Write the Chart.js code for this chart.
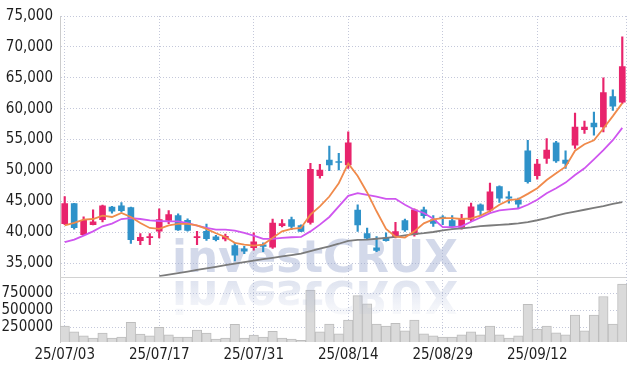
<!DOCTYPE html>
<html>
<head>
<meta charset="utf-8">
<script src="https://cdn.jsdelivr.net/npm/chart.js@4.4.1/dist/chart.umd.min.js"></script>
<style>
html,body{margin:0;padding:0;background:#ffffff;}
#wrap{width:634px;height:371px;position:relative;}
</style>
</head>
<body>
<div id="wrap"><canvas id="c" width="634" height="371"></canvas></div>
<script>
// ---------- data ----------
const dates = [
 '25/07/03','25/07/04','25/07/07','25/07/08','25/07/09','25/07/10','25/07/11','25/07/14','25/07/15','25/07/16',
 '25/07/17','25/07/18','25/07/21','25/07/22','25/07/23','25/07/24','25/07/25','25/07/28','25/07/29','25/07/30',
 '25/07/31','25/08/01','25/08/04','25/08/05','25/08/06','25/08/07','25/08/08','25/08/11','25/08/12','25/08/13',
 '25/08/14','25/08/18','25/08/19','25/08/20','25/08/21','25/08/22','25/08/25','25/08/26','25/08/27','25/08/28',
 '25/08/29','25/09/01','25/09/02','25/09/03','25/09/04','25/09/05','25/09/08','25/09/09','25/09/10','25/09/11',
 '25/09/12','25/09/15','25/09/16','25/09/17','25/09/18','25/09/19','25/09/22','25/09/23','25/09/24','25/09/25'
];
const openP = [
 41400,44650,39630,41250,42050,44100,44300,44000,38650,39150,
 40170,41930,42700,41950,39150,40150,39250,38930,37860,37330,
 37500,37960,37600,41070,42050,41070,41600,49170,51700,51400,
 50900,43600,39800,37500,39100,39300,41900,39630,43650,42000,
 42480,41900,40800,42100,44450,43600,47400,45750,45260,53170,
 49170,51950,54470,51700,54100,56620,57690,57040,61980,61060
];
const highP = [
 45800,44700,42500,43650,44400,44200,44800,44100,39800,39800,
 43800,43500,43000,42200,40150,41350,39500,39700,38300,37750,
 39900,38300,42150,42050,42480,41200,51150,51000,53940,52760,
 56240,44450,40700,39300,39900,41600,42150,43800,44100,42700,
 42700,42700,42900,44720,44600,47950,47500,46600,45530,54900,
 51800,55170,54740,53170,59300,58000,59460,64980,63050,71620
];
const lowP = [
 41250,40500,39500,41200,41700,43100,43300,38200,38000,38000,
 39100,41400,40300,40200,38000,38700,38600,38600,35350,36530,
 37100,36850,37400,40870,40430,40100,41300,48750,49970,50080,
 50350,40150,38900,36850,38550,39100,40150,39360,42300,40970,
 41240,40700,40500,41800,42850,43300,44820,44730,43920,47950,
 48590,51150,51300,50350,53560,56000,55700,56240,59730,60800
];
const closeP = [
 44650,40750,41950,41700,44300,43400,43500,38800,39200,39300,
 42050,42850,40400,40300,39300,38950,38800,39360,36300,36950,
 38450,37700,41500,41400,40970,40150,50200,50080,50900,51300,
 54470,41200,39050,37050,38650,40100,40400,43650,42700,41450,
 42250,40950,42150,44120,43540,46550,45530,45520,44550,48200,
 51050,53300,51570,51150,57040,57040,57040,62620,60420,66800
];
const volumes = [
 268700,182000,125000,91000,163000,91000,106000,322000,149000,125000,
 250000,139000,106000,106000,207000,163000,77000,91000,293000,91000,
 135000,106000,192000,91000,77000,57000,797000,182000,297000,153000,
 355000,715000,595000,297000,269000,308000,197000,355000,153000,125000,
 106000,106000,139000,182000,139000,269000,139000,91000,125000,586000,
 225000,269000,168000,139000,427000,197000,427000,701000,297000,884000
];
const ma5 = [
 41130,41520,42050,42150,42700,42480,43120,42480,41500,40700,
 40550,41130,41350,41350,41130,40550,39850,39250,38300,38020,
 37860,38020,39100,40150,40550,40700,42850,44180,45790,47950,
 51150,49100,46450,43400,40550,39300,39150,40150,41450,42100,
 42300,42300,42150,42250,42700,43450,44450,45200,45370,46220,
 47130,48470,49550,50620,53200,54260,54900,56800,58800,60900
];
const ma20 = [
 38400,38830,39470,40150,40970,41400,42150,42300,42150,41930,
 41830,41770,41770,41500,41070,40700,40430,40430,40270,39900,
 39470,38930,38930,39100,39200,39250,40150,41240,42480,44180,
 45900,46330,46060,45790,45420,45420,44450,43650,43120,42200,
 40850,40850,40970,41700,42400,43100,43550,43700,43850,44450,
 45260,46330,47130,48040,49280,50350,51800,53300,54900,56900
];
const ma60 = [
 null,null,null,null,null,null,null,null,null,null,
 32900,33150,33400,33650,33920,34170,34420,34680,34930,35180,
 35430,35650,35880,36100,36320,36550,36950,37350,37720,38150,
 38620,38760,38830,38960,39100,39250,39500,39700,39850,40050,
 40300,40500,40650,40800,41000,41100,41200,41300,41450,41650,
 41950,42300,42700,43050,43350,43650,43950,44250,44600,44900
];
const priceTickValues = [35000, 40000, 45000, 50000, 55000, 60000, 65000, 70000, 75000];
const volTickValues = [250000, 500000, 750000];
const priceRange = [32800, 75000];
const volRange = [34000, 990000];

// ---------- derived ----------
const UP = '#e8246c', DOWN = '#2f92c9';
const GRID = '#c4c8da';
const candleColors = closeP.map((c, i) => c >= openP[i] ? UP : DOWN);
const bodies = openP.map((o, i) => [o, closeP[i]]);
const wicks = lowP.map((l, i) => [l, highP[i]]);

Chart.defaults.font.family = "'Liberation Sans Narrow','DejaVu Sans Condensed',sans-serif";
Chart.defaults.font.size = 15;
Chart.defaults.color = '#1e1e1e';

function drawWM(ctx, reflect) {
  const text = 'investCRUX';
  ctx.save();
  ctx.font = "bold 44px 'DejaVu Sans'";
  const w = ctx.measureText(text).width;
  const sx = 286 / w;
  if (!reflect) {
    ctx.translate(172, 272);
    ctx.scale(sx, 1);
    ctx.fillStyle = 'rgba(150,165,205,0.42)';
    ctx.fillText(text, 0, 0);
  } else {
    ctx.translate(172, 281);
    ctx.scale(sx, -1);
    const g = ctx.createLinearGradient(0, 0, 0, -34);
    g.addColorStop(0, 'rgba(150,165,205,0.30)');
    g.addColorStop(1, 'rgba(150,165,205,0.06)');
    ctx.fillStyle = g;
    ctx.fillText(text, 0, 0);
  }
  ctx.restore();
}

const framePlugin = {
  id: 'frame',
  beforeDatasetsDraw(chart) {
    const {ctx, chartArea: a, scales} = chart;
    ctx.save();
    ctx.lineWidth = 1;
    ctx.strokeStyle = '#d2d2d2';
    const yb = Math.round(scales.y.bottom) + 0.5;
    ctx.beginPath(); ctx.moveTo(a.left, yb); ctx.lineTo(a.right, yb); ctx.stroke();
    ctx.setLineDash([1, 2]);
    ctx.strokeStyle = GRID;
    const xr = Math.round(a.right) - 0.5;
    ctx.beginPath(); ctx.moveTo(xr, a.top); ctx.lineTo(xr, a.bottom); ctx.stroke();
    ctx.restore();
    drawWM(ctx, false);
  },
  afterDatasetsDraw(chart) {
    drawWM(chart.ctx, true);
  }
};

new Chart(document.getElementById('c'), {
  type: 'bar',
  data: {
    labels: dates,
    datasets: [
      {type: 'line', data: ma5, borderColor: '#f08a4b', borderWidth: 1.8, pointRadius: 0, tension: 0, yAxisID: 'y', order: 0},
      {type: 'line', data: ma20, borderColor: '#cf55ef', borderWidth: 1.8, pointRadius: 0, tension: 0, yAxisID: 'y', order: 0},
      {type: 'line', data: ma60, borderColor: '#7b7b7b', borderWidth: 1.8, pointRadius: 0, tension: 0, yAxisID: 'y', order: 0},
      {type: 'bar', data: wicks, backgroundColor: candleColors, barThickness: 1.5, grouped: false, yAxisID: 'y', order: 1},
      {type: 'bar', data: bodies, backgroundColor: candleColors, barThickness: 6, minBarLength: 1, grouped: false, yAxisID: 'y', order: 1},
      {type: 'bar', data: volumes, backgroundColor: '#dadada', borderColor: '#bdbdbd', borderWidth: 1,
       barPercentage: 1, categoryPercentage: 1, grouped: false, yAxisID: 'yv', order: 2}
    ]
  },
  options: {
    responsive: false,
    animation: false,
    layout: {padding: {top: 15, right: 7, left: 0, bottom: 0}},
    plugins: {legend: {display: false}, tooltip: {enabled: false}},
    scales: {
      x: {
        offset: true,
        grid: {offset: false, drawTicks: false, color: c => (c.index % 10 === 0 ? GRID : 'rgba(0,0,0,0)')},
        border: {display: false, dash: [1, 2]},
        ticks: {autoSkip: false, maxRotation: 0, padding: 4, callback: (v, i) => (i % 10 === 0 ? dates[i] : '')},
        afterFit: s => { s.height = 29; }
      },
      yv: {
        type: 'linear', position: 'left', stack: 'panels', stackWeight: 1,
        min: volRange[0], max: volRange[1],
        grid: {drawTicks: false, color: GRID},
        border: {display: true, color: '#cccccc', dash: [1, 2]},
        ticks: {autoSkip: false, padding: 7, callback: v => String(v)},
        afterBuildTicks: s => { s.ticks = volTickValues.map(v => ({value: v})); },
        afterFit: s => { s.width = 60; }
      },
      y: {
        type: 'linear', position: 'left', stack: 'panels', stackWeight: 4,
        min: priceRange[0], max: priceRange[1],
        grid: {drawTicks: false, color: GRID},
        border: {display: true, color: '#cccccc', dash: [1, 2]},
        ticks: {autoSkip: false, padding: 7, callback: v => v.toLocaleString('en-US')},
        afterBuildTicks: s => { s.ticks = priceTickValues.map(v => ({value: v})); },
        afterFit: s => { s.width = 60; }
      }
    }
  },
  plugins: [framePlugin]
});
</script>
</body>
</html>
